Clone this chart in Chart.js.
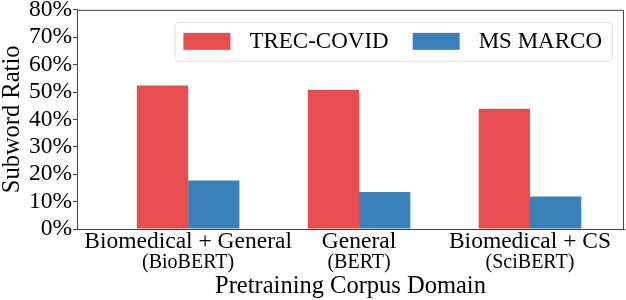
<!DOCTYPE html>
<html>
<head>
<meta charset="utf-8">
<script src="https://cdn.jsdelivr.net/npm/chart.js@4.4.1/dist/chart.umd.min.js"></script>
<style>
html,body{margin:0;padding:0;background:#fff;}
#wrap{width:626px;height:300px;position:relative;}
</style>
</head>
<body>
<div id="wrap"><canvas id="c" width="626" height="300"></canvas></div>
<script>
const categories = ["Biomedical + General", "General", "Biomedical + CS"];
const models = ["(BioBERT)", "(BERT)", "(SciBERT)"];
const seriesNames = ["TREC-COVID", "MS MARCO"];
const trecCovid = [52.4, 50.8, 43.9];
const msMarco = [17.7, 13.5, 11.9];
const yTicks = [0, 10, 20, 30, 40, 50, 60, 70, 80];
const colors = ["#E84D4F", "#3A80BA"];

const FONT = "'Liberation Serif', 'Times New Roman', serif";
const AXIS_COLOR = "#444";

const toPoints = arr => arr.map((v, i) => ({ x: i, y: v }));

const frameAndLegend = {
  id: 'frameAndLegend',
  afterDatasetsDraw(chart) {
    const { ctx, chartArea: a } = chart;
    ctx.save();
    ctx.strokeStyle = AXIS_COLOR;
    ctx.lineWidth = 1;
    ctx.beginPath();
    ctx.moveTo(a.left, a.top + 0.5);
    ctx.lineTo(a.right - 0.5, a.top + 0.5);
    ctx.lineTo(a.right - 0.5, a.bottom);
    ctx.stroke();

    ctx.font = "23px " + FONT;
    const sw = 47, sh = 17, padL = 9, padR = 10, gapT = 19, gapItem = 24;
    const ds = chart.data.datasets;
    let total = padL + padR;
    ds.forEach((d, i) => {
      total += sw + gapT + ctx.measureText(d.label).width;
      if (i < ds.length - 1) total += gapItem;
    });
    const boxR = a.right - 12, boxT = a.top + 12, boxH = 39;
    const boxL = boxR - total;
    ctx.fillStyle = "rgba(255,255,255,0.8)";
    ctx.strokeStyle = "#dddddd";
    ctx.beginPath();
    ctx.roundRect(boxL + 0.5, boxT + 0.5, total, boxH, 4);
    ctx.fill();
    ctx.stroke();
    let x = boxL + padL;
    const cy = boxT + boxH / 2;
    ds.forEach((d, i) => {
      ctx.fillStyle = d.backgroundColor;
      ctx.fillRect(x, cy - sh / 2, sw, sh);
      x += sw + gapT;
      ctx.fillStyle = "#000";
      ctx.textBaseline = "middle";
      ctx.textAlign = "left";
      ctx.fillText(d.label, x, cy + 1);
      x += ctx.measureText(d.label).width + gapItem;
    });
    ctx.restore();
  }
};

const catTicks = scale => { scale.ticks = categories.map((_, i) => ({ value: i })); };

new Chart(document.getElementById('c'), {
  type: 'bar',
  data: {
    datasets: [
      { label: seriesNames[0], data: toPoints(trecCovid), backgroundColor: colors[0], borderWidth: 0 },
      { label: seriesNames[1], data: toPoints(msMarco), backgroundColor: colors[1], borderWidth: 0 }
    ]
  },
  options: {
    responsive: false,
    animation: false,
    devicePixelRatio: 1,
    layout: { padding: { top: 0, right: 2, left: 0, bottom: 0 } },
    datasets: { bar: { categoryPercentage: 0.6, barPercentage: 1.0 } },
    plugins: { legend: { display: false }, tooltip: { enabled: false } },
    scales: {
      x: {
        type: 'linear',
        position: 'bottom',
        offset: false,
        min: -0.65,
        max: 2.55,
        afterBuildTicks: catTicks,
        grid: { display: false, drawTicks: false },
        border: { display: true, color: AXIS_COLOR, width: 1 },
        ticks: {
          color: '#000',
          font: { family: FONT, size: 23.5, lineHeight: 1 },
          padding: 1,
          maxRotation: 0,
          autoSkip: false,
          callback: (v) => categories[v]
        },
        afterFit: scale => { scale.height = 24; }
      },
      x2: {
        type: 'linear',
        position: 'bottom',
        offset: false,
        min: -0.65,
        max: 2.55,
        afterBuildTicks: catTicks,
        grid: { display: false, drawTicks: false },
        border: { display: false },
        ticks: {
          color: '#000',
          font: { family: FONT, size: 20, lineHeight: 1 },
          padding: 0,
          maxRotation: 0,
          autoSkip: false,
          callback: (v) => models[v]
        },
        title: {
          display: true,
          text: 'Pretraining Corpus Domain',
          color: '#000',
          font: { family: FONT, size: 24.5, lineHeight: 1 },
          padding: { top: 0, bottom: 1 }
        },
        afterFit: scale => { scale.height = 47; }
      },
      y: {
        min: 0,
        max: 80,
        afterBuildTicks: scale => { scale.ticks = yTicks.map(v => ({ value: v })); },
        grid: { display: true, drawOnChartArea: false, drawTicks: true, tickLength: 4, color: AXIS_COLOR },
        border: { display: true, color: AXIS_COLOR, width: 1 },
        ticks: {
          color: '#000',
          font: { family: FONT, size: 23.5, lineHeight: 0.75 },
          padding: 1,
          autoSkip: false,
          callback: v => v + '%'
        },
        title: {
          display: true,
          text: 'Subword Ratio',
          color: '#000',
          font: { family: FONT, size: 24.5, lineHeight: 1 },
          padding: { top: 0, bottom: 0 }
        },
        afterFit: scale => { scale.width = 77; }
      }
    }
  },
  plugins: [frameAndLegend]
});
</script>
</body>
</html>
